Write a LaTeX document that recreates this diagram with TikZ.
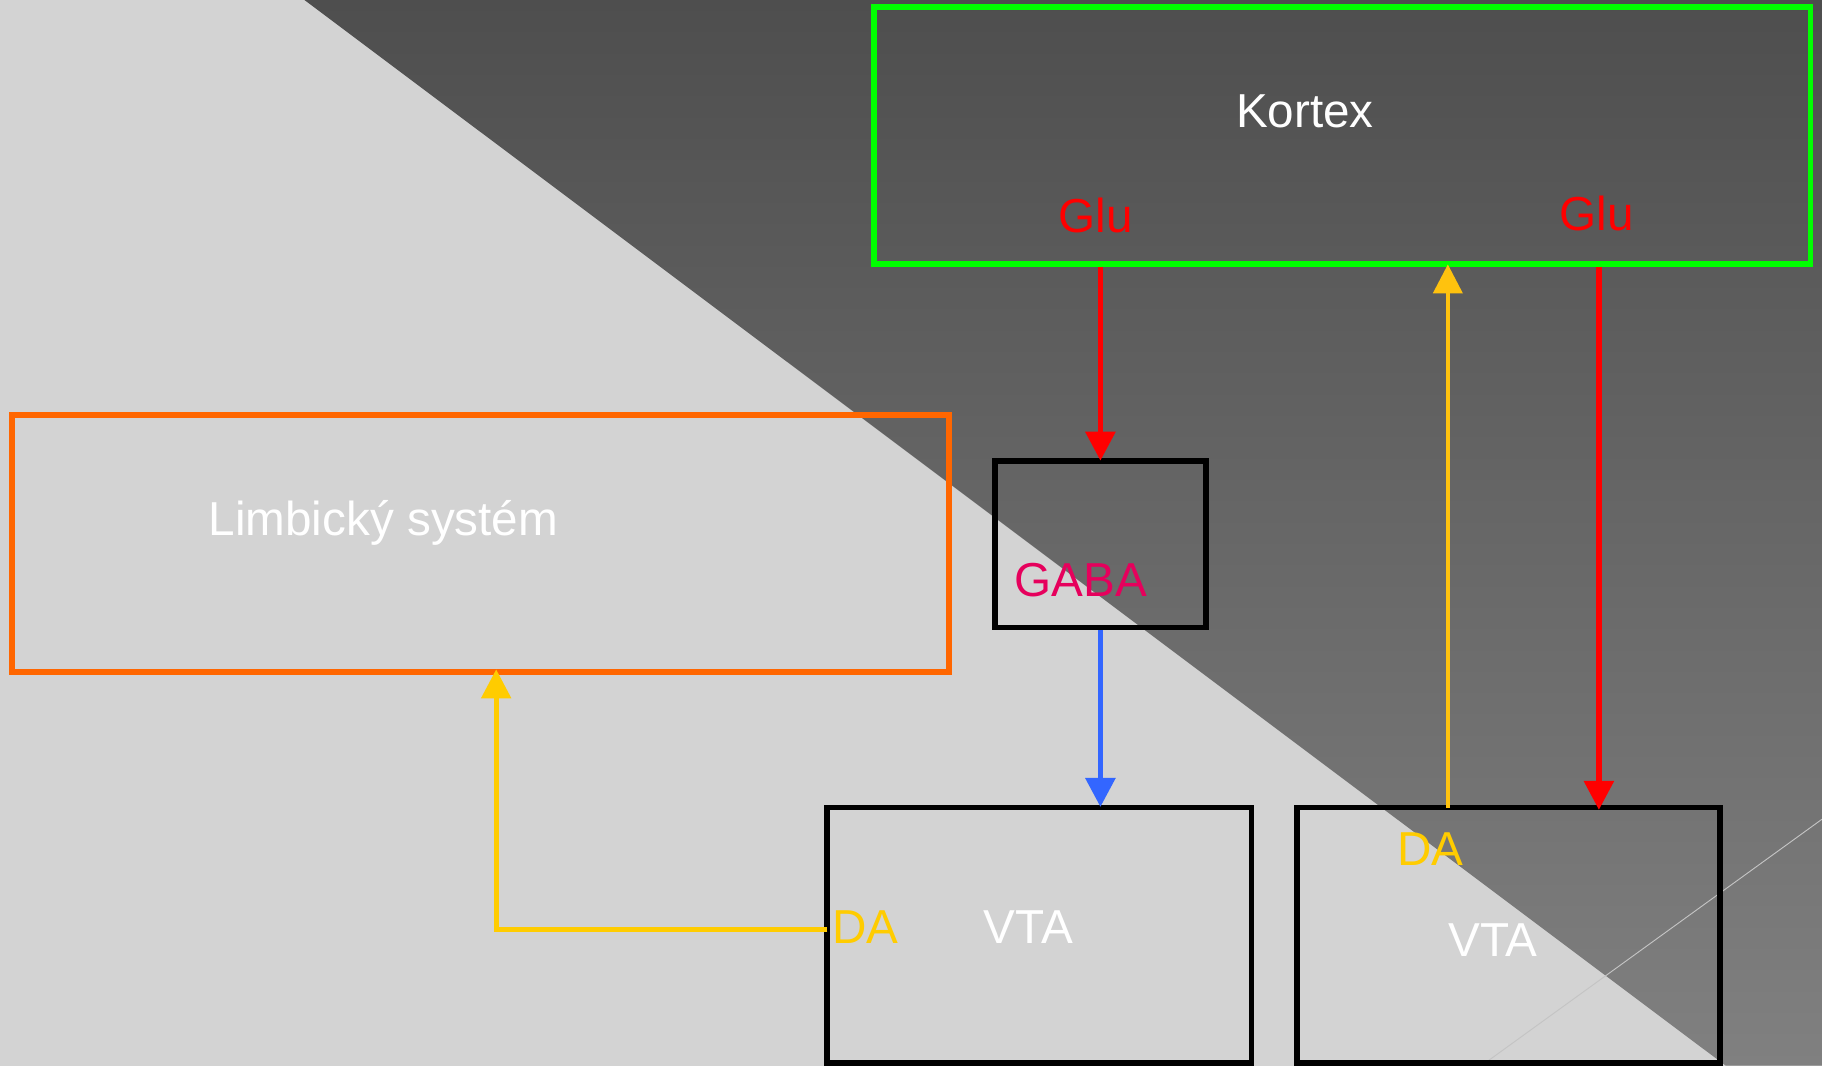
\documentclass[tikz,border=0pt]{standalone}
\usepackage{fontspec}
\setmainfont{Liberation Sans}
\usepackage{tikz}
\usetikzlibrary{positioning,arrows.meta}
\definecolor{bglight}{HTML}{D3D3D3}
\definecolor{bgdarktop}{HTML}{4E4E4E}
\definecolor{bgdarkbot}{HTML}{808080}
\definecolor{kgreen}{HTML}{00FF00}
\definecolor{lorange}{HTML}{FF6600}
\definecolor{gabared}{HTML}{E6005C}
\definecolor{dayellow}{HTML}{FFCC00}
\definecolor{dayellowb}{HTML}{FFC20E}
\definecolor{gabablue}{HTML}{3366FF}
\begin{document}
\begin{tikzpicture}[%
	x=1pt, y=-1pt,
	>={Triangle[length=25pt,width=25pt]},
	font=\fontsize{41}{49}\selectfont,
	box/.style={draw, line width=5pt, inner sep=0pt},
	txt/.style={anchor=base, inner sep=0pt},
	conn/.style={->, line width=5pt, shorten >=-2pt}
	]
	\useasboundingbox (0,0) rectangle (1568,917);
	% background
	\fill[bglight] (0,0) rectangle (1568,917);
	\shade[top color=bgdarktop, bottom color=bgdarkbot]
	(262,0) -- (1568,0) -- (1568,917) -- (1485,917) -- cycle;
	\draw[color={rgb,255:red,196;green,196;blue,196}, line width=0.8pt] (1275,917) -- (1568,705);
	
	\node[box, draw=kgreen, minimum width=806pt, minimum height=221pt] (kortex) at (1155,116.5) {};
	
	\node[box, draw=lorange, minimum width=807pt, minimum height=221pt] (limbic) at (413.5,467.5) {};
	
	\node[box, minimum width=182pt, minimum height=143pt] (gaba) at (947,468.5) {};
	
	\node[box, minimum width=365pt, minimum height=220pt] (vta1) at (894.5,805) {};
	
	\node[box, minimum width=364pt, minimum height=220pt] (vta2) at (1298,805) {};
	
	% texts
	\node[txt, white] (tk) at (1123,110) {Kortex};
	\node[txt, red] (glu1) at (943,200) {Glu};
	\node[txt, red] (glu2) at (1374,198) {Glu};
	\node[txt, white] (tl) at (330,461) {Limbický systém};
	\node[txt, gabared] (tg) at (930,513) {GABA};
	\node[txt, dayellow] (da1) at (745,812) {DA};
	\node[txt, white] (tv1) at (885,812) {VTA};
	\node[txt, dayellow] (da2) at (1231,745) {DA};
	\node[txt, white] (tv2) at (1285,823) {VTA};
	
	\coordinate (p1) at (712,800);
	\coordinate (p2) at (427,578);
	\coordinate (p3) at (1246,695);
	\coordinate (p4) at (1376,695);
	
	\draw[conn, red] (gaba.north |- kortex.south) -- (gaba.north);
	\draw[conn, gabablue] (gaba.south) -- (gaba.south |- vta1.north);
	\draw[conn, dayellowb, line width=3.5pt] (p3) -- (p3 |- kortex.south);
	\draw[conn, red] (p4 |- kortex.south) -- (p4);
	\draw[conn, dayellow, line width=4.5pt] (p1) -| (p2);
\end{tikzpicture}
\end{document}
